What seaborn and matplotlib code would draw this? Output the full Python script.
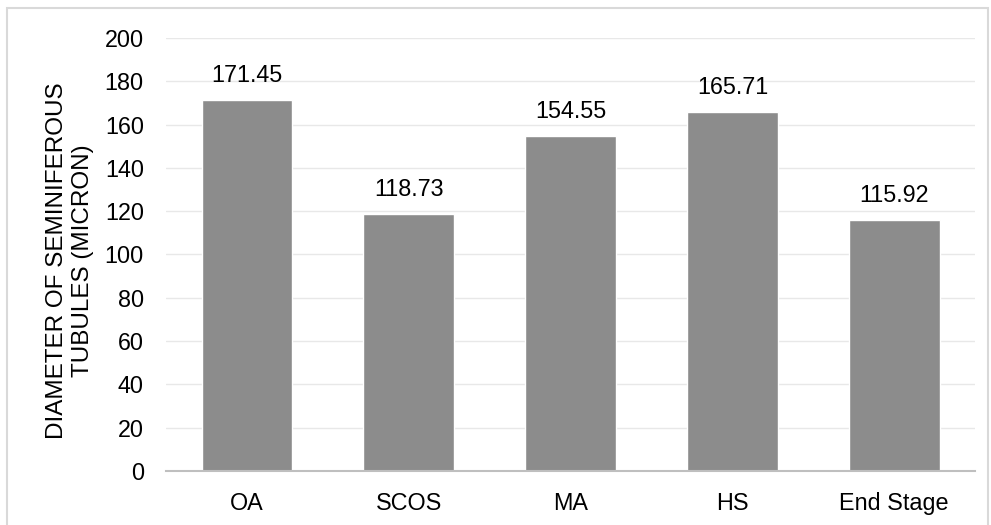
import matplotlib
matplotlib.use("Agg")
import matplotlib.pyplot as plt
import seaborn as sns
import pandas as pd
from matplotlib.patches import Rectangle

groups = ["OA", "SCOS", "MA", "HS", "End Stage"]
diameters = [171.45, 118.73, 154.55, 165.71, 115.92]
y_ticks = [0, 20, 40, 60, 80, 100, 120, 140, 160, 180, 200]

sns.set_theme(style="white")
plt.rcParams["font.family"] = ["Liberation Sans", "DejaVu Sans"]

df = pd.DataFrame({"group": groups, "diameter": diameters})

fig = plt.figure(figsize=(9.91, 5.25), dpi=100)
ax = fig.add_axes([0.1675, 0.1029, 0.8165, 0.8247])

sns.barplot(data=df, x="group", y="diameter", color="#8c8c8c", saturation=1,
            width=0.56, ax=ax, zorder=3)

ax.set_ylim(0, 200)
ax.set_yticks(y_ticks)
ax.set_xlim(-0.5, len(groups) - 0.5)
ax.yaxis.grid(True, color="#e8e8e8", linewidth=1, zorder=0)
ax.set_axisbelow(True)
for s in ["top", "right", "left"]:
    ax.spines[s].set_visible(False)
ax.spines["bottom"].set_color("#bfbfbf")
ax.spines["bottom"].set_linewidth(1.5)
ax.spines["bottom"].set_zorder(4)

ax.tick_params(axis="y", length=0, labelsize=16.8, labelcolor="#000000", pad=16)
ax.tick_params(axis="x", length=0, labelsize=16.8, labelcolor="#000000", pad=15)
ax.set_xlabel("")
ax.set_ylabel("DIAMETER OF SEMINIFEROUS\nTUBULES (MICRON)", fontsize=17.5,
              color="#000000", linespacing=1.25)
ax.yaxis.label.set_verticalalignment("center")
ax.yaxis.set_label_coords(-0.119, 0.485)

for i, v in enumerate(diameters):
    ax.annotate(f"{v:.2f}", xy=(i, v), xytext=(0, 13), textcoords="offset points",
                ha="center", va="baseline", fontsize=16.8, color="#000000")

# light outer frame around the chart area
fig.patches.append(Rectangle((7 / 991, -0.01), 981 / 991, 1 - 8 / 525 + 0.01,
                             transform=fig.transFigure, fill=False,
                             edgecolor="#d9d9d9", linewidth=1.5))

fig.savefig("out.png", dpi=100)
